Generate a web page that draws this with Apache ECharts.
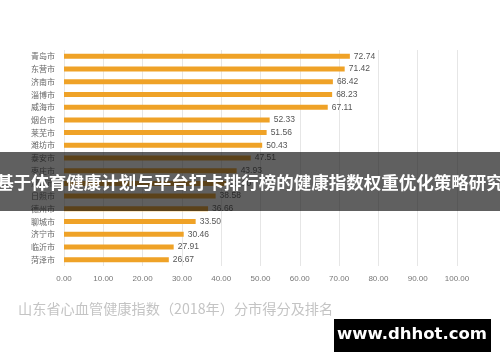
<!DOCTYPE html>
<html>
<head>
<meta charset="utf-8">
<script src="https://cdn.jsdelivr.net/npm/echarts@6/dist/echarts.min.js"></script>
<style>html,body{margin:0;padding:0;background:#fff;}#c{width:500px;height:362px;}</style>
</head>
<body>
<div id="c"></div>
<script>
const cities = ['青岛市','东营市','济南市','淄博市','威海市','烟台市','莱芜市','潍坊市','泰安市','枣庄市','滨州市','日照市','德州市','聊城市','济宁市','临沂市','菏泽市'];
const scores = [72.74,71.42,68.42,68.23,67.11,52.33,51.56,50.43,47.51,43.93,41.20,38.58,36.66,33.50,30.46,27.91,26.67];
const xTicks = {min:0, max:100, interval:10};
const chartTitle = '山东省心血管健康指数（2018年）分市得分及排名';
const overlayText = '基于体育健康计划与平台打卡排行榜的健康指数权重优化策略研究';
const watermark = 'www.dhhot.com';

const chart = echarts.init(document.getElementById('c'), null, {renderer:'canvas'});
chart.setOption({
  animation:false,
  backgroundColor:'#ffffff',
  title:{text:chartTitle,left:13,top:297,textStyle:{color:'#c4c4c4',fontSize:14.2,fontWeight:'normal',fontFamily:'Noto Sans CJK SC'}},
  grid:{left:64,top:50,width:393,height:216,containLabel:false},
  xAxis:{type:'value',min:xTicks.min,max:xTicks.max,interval:xTicks.interval,
    axisLine:{show:false},axisTick:{show:false},
    axisLabel:{formatter:v=>v.toFixed(2),color:'#777',fontSize:8,margin:9,fontFamily:'Liberation Sans'},
    splitLine:{lineStyle:{color:'#e6e6e6',width:1}}},
  yAxis:{type:'category',data:cities,inverse:true,
    axisLine:{show:false},axisTick:{show:false},
    axisLabel:{color:'#666',fontSize:8,margin:9,fontFamily:'Noto Sans CJK SC'}},
  series:[{type:'bar',data:scores,barWidth:5,
    itemStyle:{color:'#EFA227'},
    label:{show:true,position:'right',distance:4,formatter:p=>p.value.toFixed(2),color:'#555',fontSize:8.5,fontFamily:'Liberation Sans'}}],
  graphic:[
    {type:'rect',z:100,shape:{x:0,y:152,width:500,height:59},style:{fill:'rgba(20,20,20,0.68)'}},
    {type:'text',z:101,x:250,y:182,style:{text:overlayText,fill:'#ffffff',font:'bold 17.5px "Noto Sans CJK SC"',textAlign:'center',textVerticalAlign:'middle'}},
    {type:'rect',z:100,shape:{x:334,y:319,width:157,height:33},style:{fill:'#000000'}},
    {type:'text',z:101,x:412,y:335,style:{text:watermark,fill:'#ffffff',font:'bold 16.5px "DejaVu Sans"',textAlign:'center',textVerticalAlign:'middle'}}
  ]
});
</script>
</body>
</html>
